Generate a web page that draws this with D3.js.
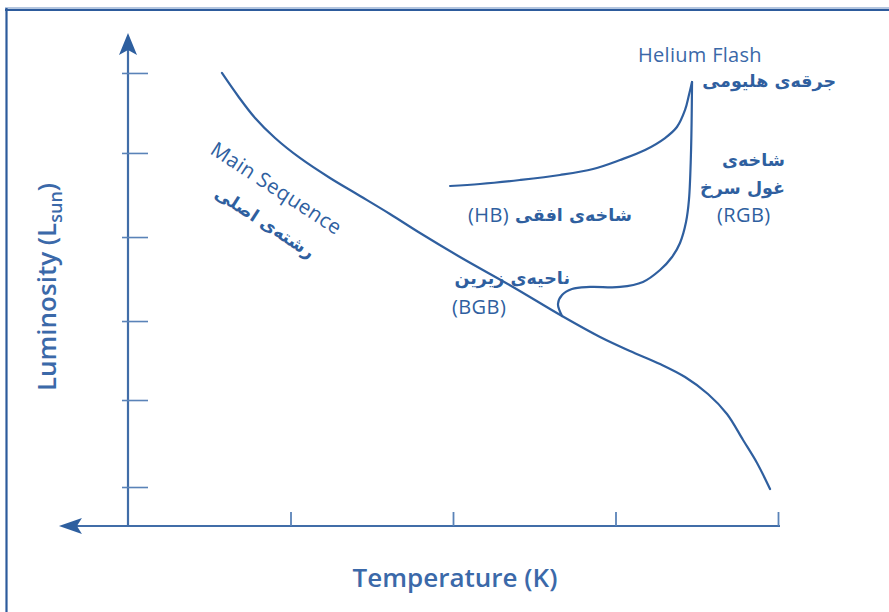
<!DOCTYPE html>
<html><head><meta charset="utf-8">
<script src="https://cdn.jsdelivr.net/npm/d3@7"></script>
<style>html,body{margin:0;padding:0;background:#fff;}svg{display:block;}</style>
</head><body>
<svg id="chart" width="889" height="612"></svg>
<script>
// Abstract units: x = temperature position (increases to the left), y = luminosity
const mainSeqX = [3.422,3.323,3.218,3.095,2.942,2.757,2.572,2.388,2.203,1.957,1.631,1.329,1.095,0.911,0.726,0.572,0.431,0.314,0.215,0.129,0.049];
const mainSeqY = [5.426,5.150,4.887,4.647,4.408,4.168,3.953,3.737,3.509,3.222,2.863,2.515,2.264,2.096,1.940,1.784,1.581,1.342,1.030,0.755,0.443];
const giantX = [1.329,1.354,1.329,1.268,1.157,0.972,0.831,0.726,0.652,0.603,0.566,0.548,0.535,0.529];
const giantY = [2.515,2.659,2.767,2.839,2.863,2.863,2.923,3.066,3.222,3.390,3.641,3.905,4.504,5.318];
const hbX = [2.018,1.834,1.588,1.342,1.138,0.972,0.818,0.695,0.622,0.572,0.548,0.529];
const hbY = [4.072,4.096,4.144,4.204,4.276,4.384,4.504,4.647,4.779,4.983,5.162,5.318];
const xTicks = [3, 2, 1, 0];
const yTicks = [5.426, 4.468, 3.461, 2.455, 1.509, 0.467];
const xAxisEnd = 4.425, yAxisEnd = 5.905;

const svg = d3.select("#chart");
const x = d3.scaleLinear().domain([4, 0]).range([128, 778]);
const y = d3.scaleLinear().domain([0, 6.3]).range([526, 0]);

const frameCol = "#2d5b9c", axisCol = "#416da8", curveCol = "#2f5f9f", textCol = "#2f5f9f";

// frame
svg.append("line").attr("x1",5).attr("x2",889).attr("y1",8).attr("y2",8).attr("stroke","#9bb3d4").attr("stroke-width",1.5);
svg.append("line").attr("x1",5).attr("x2",889).attr("y1",10).attr("y2",10).attr("stroke",frameCol).attr("stroke-width",2.2);
svg.append("line").attr("x1",6.5).attr("x2",6.5).attr("y1",8).attr("y2",612).attr("stroke",frameCol).attr("stroke-width",2.2);

// axes lines
svg.append("line").attr("x1",x(4)).attr("x2",x(4)).attr("y1",y(0)).attr("y2",y(yAxisEnd)+12)
  .attr("stroke",axisCol).attr("stroke-width",2.2);
svg.append("line").attr("x1",x(xAxisEnd)+12).attr("x2",x(0)+2).attr("y1",y(0)).attr("y2",y(0))
  .attr("stroke",axisCol).attr("stroke-width",2.2);
// arrow heads
const ty = y(yAxisEnd), tx = x(4);
svg.append("path").attr("d",`M${tx},${ty} L${tx+9},${ty+22} L${tx},${ty+17} L${tx-9},${ty+22} Z`).attr("fill","#2e5f9f");
const ax = x(xAxisEnd), ay = y(0);
svg.append("path").attr("d",`M${ax},${ay} L${ax+23},${ay-8} L${ax+18},${ay} L${ax+23},${ay+8} Z`).attr("fill","#2e5f9f");

// ticks
const yAxis = d3.axisRight(y).tickValues(yTicks).tickSize(26).tickFormat("");
const gy = svg.append("g").attr("transform",`translate(${x(4)-6},0)`).call(yAxis);
gy.select(".domain").remove();
gy.selectAll(".tick line").attr("stroke","#5a83b8").attr("stroke-width",1.6);
const xAxis = d3.axisTop(x).tickValues(xTicks).tickSize(14).tickFormat("");
const gx = svg.append("g").attr("transform",`translate(0,${y(0)})`).call(xAxis);
gx.select(".domain").remove();
gx.selectAll(".tick line").attr("stroke","#5a83b8").attr("stroke-width",1.8);

// curves
const line = d3.line().x(d=>x(d[0])).y(d=>y(d[1])).curve(d3.curveCatmullRom.alpha(0.5));
function draw(xs, ys){
  svg.append("path").datum(xs.map((v,i)=>[v,ys[i]])).attr("d",line)
    .attr("fill","none").attr("stroke",curveCol).attr("stroke-width",2.2).attr("stroke-linecap","round");
}
draw(mainSeqX, mainSeqY);
draw(giantX, giantY);
draw(hbX, hbY);

// labels
const latin = "'Open Sans', 'Noto Sans', sans-serif";
const fa = "'DejaVu Sans', 'Noto Sans', sans-serif";
function txt(t, px, py, opts){
  const o = Object.assign({size:17, fam:latin, anchor:"start", weight:"normal", col:textCol, rot:0, dir:null, ls:0}, opts||{});
  const el = svg.append("text").attr("x",px).attr("y",py).text(t)
    .attr("font-family",o.fam).attr("font-size",o.size).attr("font-weight",o.weight)
    .attr("fill",o.col).attr("text-anchor",o.anchor);
  if (o.ls) el.attr("letter-spacing", o.ls);
  if (o.dir) el.attr("direction", o.dir);
  if (o.rot) el.attr("transform",`rotate(${o.rot},${px},${py})`);
  return el;
}
txt("Helium Flash", 638, 62, {size:20, col:"#3a68a8", ls:0.3});
txt("جرقه\u200cی هلیومی", 836, 87, {size:17.5, fam:fa, weight:"bold", dir:"rtl"});
txt("شاخه\u200cی", 785, 166, {size:17.5, fam:fa, weight:"bold", dir:"rtl"});
txt("غول سرخ", 785, 194, {size:17.5, fam:fa, weight:"bold", dir:"rtl"});
txt("(RGB)", 717, 222, {size:20, ls:0.4});
txt("شاخه\u200cی افقی", 632, 221, {size:17.5, fam:fa, weight:"bold", dir:"rtl"});
txt("(HB)", 468, 222, {size:20, ls:0.4});
txt("ناحیه\u200cی زیرین", 570, 284, {size:17.5, fam:fa, weight:"bold", dir:"rtl"});
txt("(BGB)", 452, 314, {size:20, ls:0.4});
txt("Main Sequence", 209, 153, {size:20.5, rot:33, ls:0.4});
txt("رشته\u200cی اصلی", 310, 259, {size:17.5, fam:fa, weight:"bold", rot:33, dir:"rtl"});

// axis titles
const lum = svg.append("text").attr("transform","translate(56,287) rotate(-90)")
  .attr("text-anchor","middle").attr("font-family",latin).attr("font-size",26).attr("font-weight","600").attr("fill","#3b69a9");
lum.append("tspan").text("Luminosity (L");
lum.append("tspan").text("sun").attr("font-size",18).attr("dy",6);
lum.append("tspan").text(")").attr("dy",-6);
txt("Temperature (K)", 455, 587, {size:26, anchor:"middle", weight:"600", col:"#3b69a9"});
</script>
</body></html>
